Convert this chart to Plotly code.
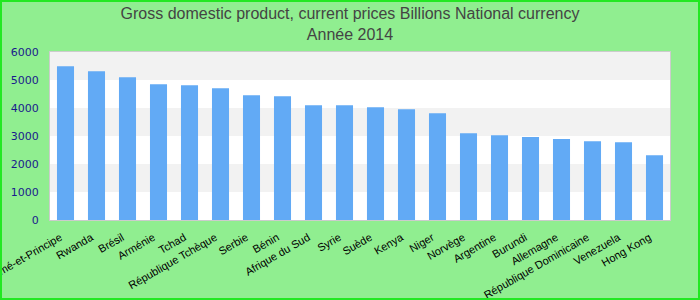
import plotly.graph_objects as go

countries = ["Sao Tomé-et-Principe", "Rwanda", "Brésil", "Arménie", "Tchad",
             "République Tchèque", "Serbie", "Bénin", "Afrique du Sud", "Syrie",
             "Suède", "Kenya", "Niger", "Norvège", "Argentine", "Burundi",
             "Allemagne", "République Dominicaine", "Venezuela", "Hong Kong"]
values = [5490, 5310, 5095, 4850, 4815, 4705, 4455, 4420, 4100, 4095,
          4030, 3955, 3815, 3100, 3030, 2960, 2890, 2815, 2780, 2315]
y_ticks = [0, 1000, 2000, 3000, 4000, 5000, 6000]
title_lines = ["Gross domestic product, current prices Billions National currency", "Année 2014"]

fig = go.Figure()
fig.add_trace(go.Bar(x=countries, y=values, marker=dict(color="#62aaf5", line=dict(width=0)),
                     width=0.55))

shapes = []
for i in range(len(y_ticks) - 1):
    if i % 2 == 1:
        shapes.append(dict(type="rect", xref="paper", yref="y", x0=0, x1=1,
                           y0=y_ticks[i], y1=y_ticks[i + 1], fillcolor="#f2f2f2",
                           line=dict(width=0), layer="below"))
# outer figure border
W, H, L, R, T, B = 700, 300, 50, 30, 52, 80
pw, ph = W - L - R, H - T - B
shapes.append(dict(type="rect", xref="paper", yref="paper",
                   x0=(-L + 1) / pw, x1=(pw + R - 1) / pw,
                   y0=(-B + 1) / ph, y1=(ph + T - 1) / ph,
                   line=dict(color="#22e822", width=2), fillcolor="rgba(0,0,0,0)", layer="above"))

fig.update_layout(
    width=W, height=H,
    margin=dict(l=L, r=R, t=T, b=B, autoexpand=False),
    paper_bgcolor="#90ee90", plot_bgcolor="#ffffff",
    title=dict(text="<br>".join(title_lines), x=0.5, xanchor="center", xref="container",
               y=1 - 19 / H, yanchor="middle", yref="container",
               font=dict(family="Liberation Sans, Arial", size=16, color="#444444")),
    shapes=shapes,
    showlegend=False,
    bargap=0.45,
)
fig.update_xaxes(type="category", tickangle=-30, automargin=False,
                 tickvals=countries, ticktext=[c + "\u00a0\u00a0" for c in countries],
                 tickfont=dict(family="Liberation Sans, Arial", size=11, color="#000000"),
                 showline=True, linecolor="#cccccc", linewidth=1, mirror=True,
                 ticks="outside", ticklen=3, tickcolor="rgba(0,0,0,0)", showgrid=False)
fig.update_yaxes(range=[0, 6000], tickvals=y_ticks, automargin=False,
                 tickfont=dict(family="DejaVu Sans", size=11, color="#1a1a8c"),
                 showline=True, linecolor="#cccccc", linewidth=1, mirror=True,
                 ticks="outside", ticklen=8, tickcolor="rgba(0,0,0,0)",
                 showgrid=False, zeroline=False)

fig.write_html("out.html")
